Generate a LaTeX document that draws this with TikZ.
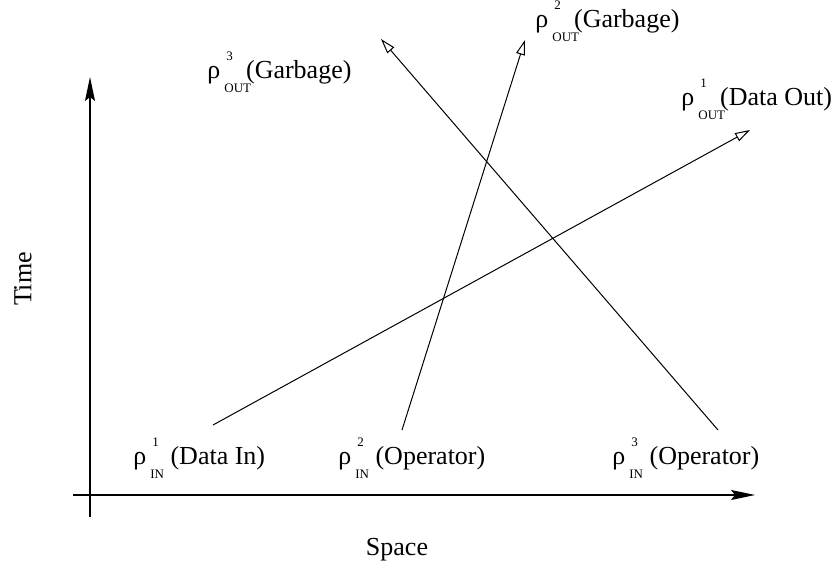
\documentclass[tikz,border=0pt]{standalone}
\usepackage{fontspec}
\setmainfont{Liberation Serif}
\usepackage{tikz}
\usetikzlibrary{arrows.meta,positioning}
\newcommand{\idxsize}{\fontsize{6.5}{7}\selectfont}
\newcommand{\rhotag}[2]{ρ\kern2pt\rlap{\kern1pt\raisebox{1.45ex}{\idxsize #1}}\raisebox{-1.25ex}{\idxsize #2}}
\tikzset{
  axis/.style={-{Stealth[length=12pt, width=5pt, inset=2pt]}, line width=0.6pt},
  ray/.style={-{Triangle[open, length=7.5pt, width=4.5pt]}, line width=0.5pt},
  tag/.style={inner sep=0pt, anchor=base west, font=\fontsize{13}{15}\selectfont}
}
\begin{document}
\begin{tikzpicture}[
  x=0.5pt, y=-0.5pt,
  axlabel/.style={inner sep=0pt, font=\fontsize{13}{15}\selectfont}
]
\useasboundingbox (0,0) rectangle (832,573);
% ---- axes ----
\coordinate (torig) at (90,517);
\coordinate (ttop) at (90,77);
\coordinate (sorig) at (73,495);
\coordinate (send) at (755,495);
\draw[axis] (torig) -- (ttop);
\draw[axis] (sorig) -- (send);
\node[axlabel, rotate=90] (time) at (23,279) {Time};
\node[axlabel] (space) at (397,550) {Space};
% ---- incoming states ----
\node[tag] (in1) at (133,464) {\rhotag{1}{IN} (Data In)};
\node[tag] (in2) at (338,464) {\rhotag{2}{IN} (Operator)};
\node[tag] (in3) at (612,464) {\rhotag{3}{IN} (Operator)};
% ---- outgoing states ----
\node[tag] (out1) at (681,105) {\rhotag{1}{OUT}\kern-2.5pt(Data Out)};
\node[tag] (out2) at (535,27) {\rhotag{2}{OUT}\kern-2.5pt(Garbage)};
\node[tag] (out3) at (207,78) {\rhotag{3}{OUT}\kern-2.5pt(Garbage)};
% ---- world lines ----
\coordinate (a1) at (213,425);
\coordinate (b1) at (750,130);
\coordinate (a2) at (402,430);
\coordinate (b2) at (525,40);
\coordinate (a3) at (718,430);
\coordinate (b3) at (381,39);
\draw[ray] (a1) -- (b1);
\draw[ray] (a2) -- (b2);
\draw[ray] (a3) -- (b3);
\end{tikzpicture}
\end{document}
